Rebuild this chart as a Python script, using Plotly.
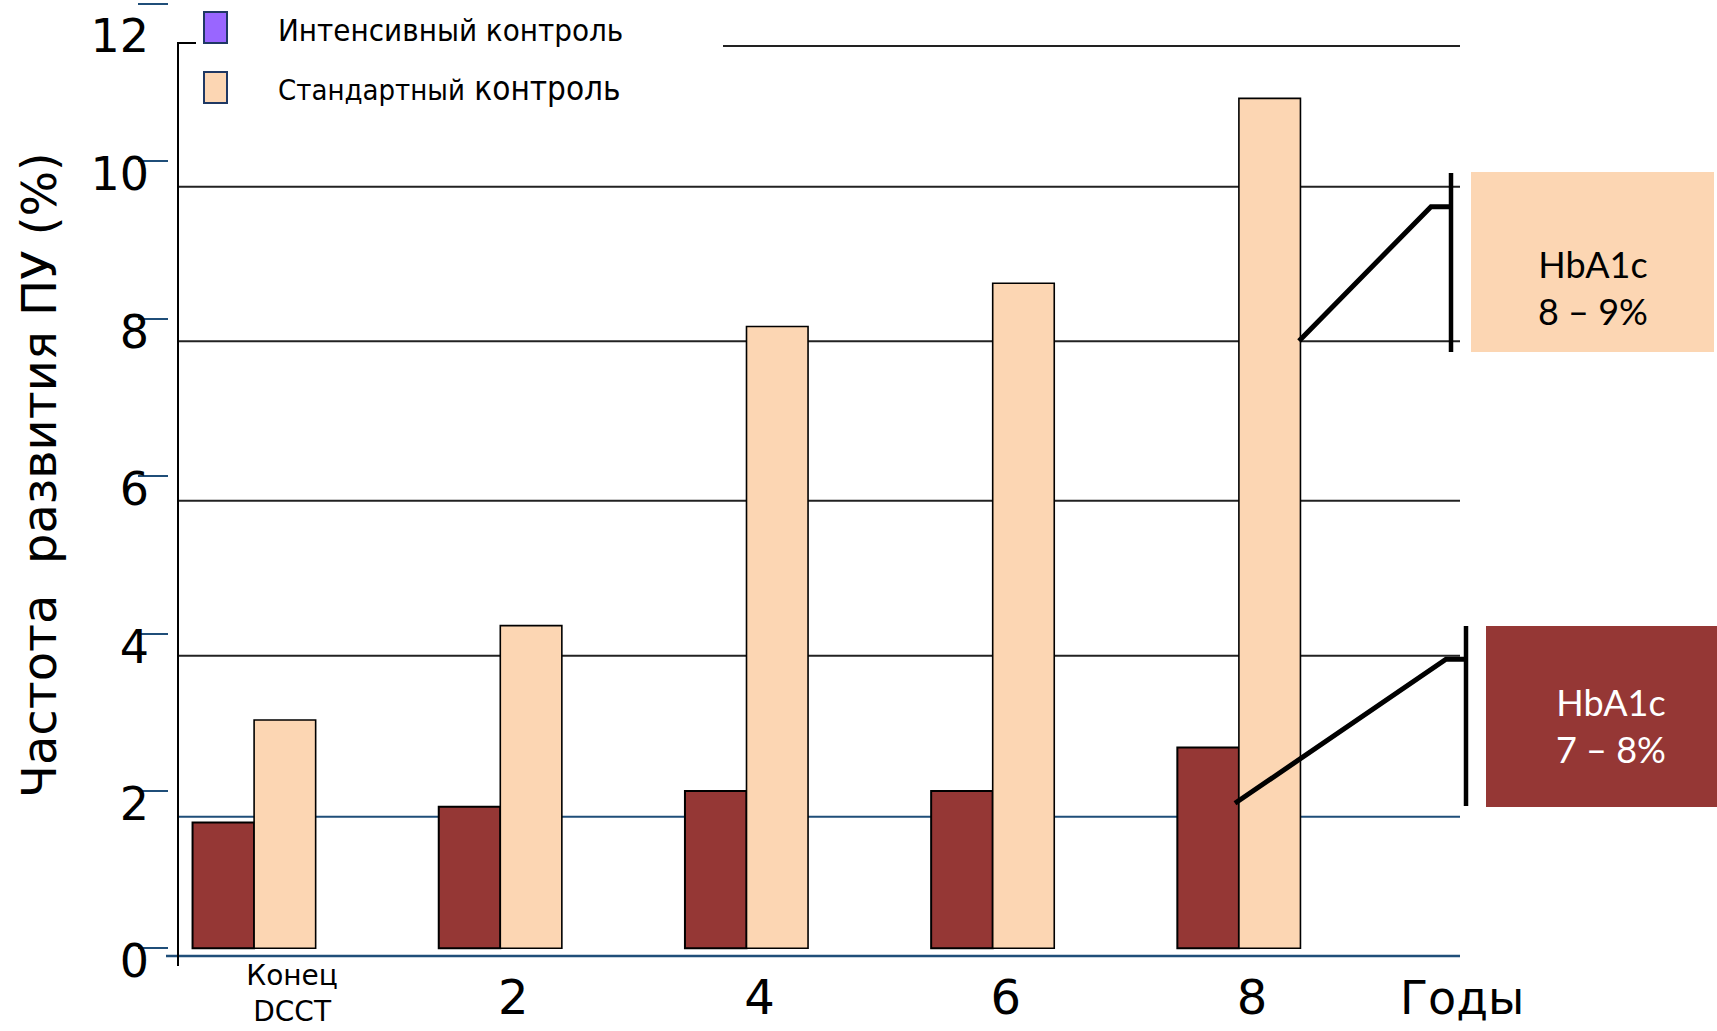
import plotly.graph_objects as go

# ---- data -------------------------------------------------------------
YEARS = [0, 2, 4, 6, 8]
YEAR_LABELS = ["Конец<br>DCCT", "2", "4", "6", "8"]
SERIES = ["Интенсивный контроль", "Стандартный контроль"]
INTENSIVE = [1.6, 1.8, 2.0, 2.0, 2.55]
STANDARD = [2.9, 4.1, 7.9, 8.45, 10.8]
Y_TICKS = [0, 2, 4, 6, 8, 10, 12]
Y_TITLE = "Частота  развития ПУ (%)"
X_TITLE = "Годы"
BOX_HIGH = "HbA1c<br>8 – 9%"
BOX_LOW = "HbA1c<br>7 – 8%"

# ---- page geometry / styles -------------------------------------------
W, H = 1717, 1031
ZERO_PX, PX_PER_UNIT = 948.3, 78.7
YEAR0_PX, PX_PER_YEAR = 254.1, 123.1
PLOT_LEFT, PLOT_RIGHT = 178, 1460
BASELINE_PX = 956

DARK_RED = "#953735"
PEACH = "#FCD6B3"
PURPLE = "#9966FF"
NAVY = "#1F4E79"
FONT = "DejaVu Sans"
FONT_COND = "DejaVu Sans Condensed, DejaVu Sans"
FONT_BOX = "Lato, Open Sans"


def fx(p):
    return p / W


def fy(p):
    return 1 - p / H


fig = go.Figure()
fig.add_trace(go.Bar(x=YEARS, y=INTENSIVE, name=SERIES[0], width=0.5, offset=-0.5,
                     marker=dict(color=DARK_RED, line=dict(color="black", width=2)),
                     showlegend=False))
fig.add_trace(go.Bar(x=YEARS, y=STANDARD, name=SERIES[1], width=0.5, offset=0,
                     marker=dict(color=PEACH, line=dict(color="black", width=1.6)),
                     showlegend=False))

x_range = [(PLOT_LEFT - YEAR0_PX) / PX_PER_YEAR, (PLOT_RIGHT - YEAR0_PX) / PX_PER_YEAR]
y_range = [(ZERO_PX - H) / PX_PER_UNIT, ZERO_PX / PX_PER_UNIT]
common_x = dict(range=x_range, anchor="free", position=fy(BASELINE_PX), automargin=False,
                showline=False, showgrid=False, zeroline=False, ticks="")
common_y = dict(range=y_range, anchor="free", position=fx(137), automargin=False,
                showline=False, showgrid=False, zeroline=False,
                ticks="inside", ticklen=30, tickwidth=2, tickcolor=NAVY,
                ticklabeloverflow="allow", ticklabelstandoff=-12,
                tickfont=dict(family=FONT, size=46, color="black"))

fig.update_layout(
    width=W, height=H,
    margin=dict(l=0, r=0, t=0, b=0, autoexpand=False),
    paper_bgcolor="white", plot_bgcolor="rgba(0,0,0,0)",
    barmode="overlay",
    # numeric years on the main axis
    xaxis=dict(domain=[fx(PLOT_LEFT), fx(PLOT_RIGHT)],
               tickvals=YEARS[1:], ticktext=YEAR_LABELS[1:],
               tickfont=dict(family=FONT, size=48, color="black"),
               ticklabelshift=13, ticklabelstandoff=9, **common_x),
    # two-line label for the end of DCCT, in a smaller font
    xaxis2=dict(overlaying="x",
                tickvals=YEARS[:1], ticktext=YEAR_LABELS[:1],
                tickfont=dict(family=FONT, size=28, color="black"),
                ticklabelshift=38, ticklabelstandoff=0, side="bottom", **common_x),
    yaxis=dict(domain=[0, 1], tickvals=Y_TICKS[:-1], ticklabelshift=13, **common_y),
    # the top tick label sits a little lower so that it stays on the page
    yaxis2=dict(overlaying="y", side="left", tickvals=Y_TICKS[-1:], ticklabelshift=32,
                **common_y),
)
# empty traces keep the secondary axes active
fig.add_trace(go.Scatter(x=[None], y=[None], xaxis="x2", yaxis="y2",
                         showlegend=False, hoverinfo="skip"))

shapes = []
# vertical axis line with a short cap at the top
shapes.append(dict(type="line", xref="paper", yref="paper", x0=fx(178), x1=fx(178),
                   y0=fy(43), y1=fy(966), line=dict(color="black", width=2)))
shapes.append(dict(type="line", xref="paper", yref="paper", x0=fx(177), x1=fx(196),
                   y0=fy(43), y1=fy(43), line=dict(color="black", width=2)))
# horizontal rules
for ypx in [186.7, 341.3, 500.7, 655.7]:
    shapes.append(dict(type="line", xref="paper", yref="paper", x0=fx(177), x1=fx(PLOT_RIGHT),
                       y0=fy(ypx), y1=fy(ypx), line=dict(color="#222222", width=2), layer="below"))
shapes.append(dict(type="line", xref="paper", yref="paper", x0=fx(723), x1=fx(PLOT_RIGHT),
                   y0=fy(46), y1=fy(46), line=dict(color="#222222", width=2), layer="below"))
shapes.append(dict(type="line", xref="paper", yref="paper", x0=fx(177), x1=fx(PLOT_RIGHT),
                   y0=fy(816.7), y1=fy(816.7), line=dict(color=NAVY, width=2), layer="below"))
shapes.append(dict(type="line", xref="paper", yref="paper", x0=fx(166), x1=fx(PLOT_RIGHT),
                   y0=fy(BASELINE_PX), y1=fy(BASELINE_PX), line=dict(color=NAVY, width=2.5),
                   layer="below"))

# legend swatches
for top, color in [(12, PURPLE), (72, PEACH)]:
    shapes.append(dict(type="rect", xref="paper", yref="paper", x0=fx(204), x1=fx(227),
                       y0=fy(top + 31), y1=fy(top), fillcolor=color,
                       line=dict(color="#1F3864", width=2)))

# HbA1c boxes
shapes.append(dict(type="rect", xref="paper", yref="paper", x0=fx(1471), x1=fx(1714),
                   y0=fy(352), y1=fy(172), fillcolor=PEACH, line=dict(width=0)))
shapes.append(dict(type="rect", xref="paper", yref="paper", x0=fx(1486), x1=fx(1717),
                   y0=fy(807), y1=fy(626), fillcolor=DARK_RED, line=dict(width=0)))

# brackets and connectors
shapes.append(dict(type="line", xref="paper", yref="paper", x0=fx(1451), x1=fx(1451),
                   y0=fy(173), y1=fy(352), line=dict(color="black", width=4.5)))
shapes.append(dict(type="path", xref="paper", yref="paper",
                   path=f"M {fx(1299)} {fy(341)} L {fx(1431)} {fy(206.7)} L {fx(1451)} {fy(206.7)}",
                   line=dict(color="black", width=5)))
shapes.append(dict(type="line", xref="paper", yref="paper", x0=fx(1466), x1=fx(1466),
                   y0=fy(626), y1=fy(806), line=dict(color="black", width=4.5)))
shapes.append(dict(type="path", xref="paper", yref="paper",
                   path=f"M {fx(1235)} {fy(803.3)} L {fx(1446)} {fy(659.3)} L {fx(1466)} {fy(659.3)}",
                   line=dict(color="black", width=5)))
fig.update_layout(shapes=shapes)

first_word, rest = SERIES[1].split(" ", 1)
annotations = [
    dict(text=Y_TITLE, x=fx(39), y=fy(475), textangle=-90,
         font=dict(family=FONT, size=48, color="black")),
    dict(text=X_TITLE, x=fx(1462), y=fy(998),
         font=dict(family=FONT, size=46, color="black")),
    dict(text=SERIES[0], x=fx(276), y=fy(30), xanchor="left",
         font=dict(family=FONT_COND, size=31, color="black")),
    dict(text=f"<span style='font-size:29px'>{first_word}</span> {rest}",
         x=fx(276), y=fy(89), xanchor="left",
         font=dict(family=FONT_COND, size=33, color="black")),
    dict(text=BOX_HIGH, x=fx(1593), y=fy(287),
         font=dict(family=FONT_BOX, size=36, color="black")),
    dict(text=BOX_LOW, x=fx(1611), y=fy(725),
         font=dict(family=FONT_BOX, size=36, color="white")),
]
for a in annotations:
    a.update(xref="paper", yref="paper", showarrow=False, yanchor="middle")
    a.setdefault("xanchor", "center")
fig.update_layout(annotations=annotations)

fig.write_html("out.html")
